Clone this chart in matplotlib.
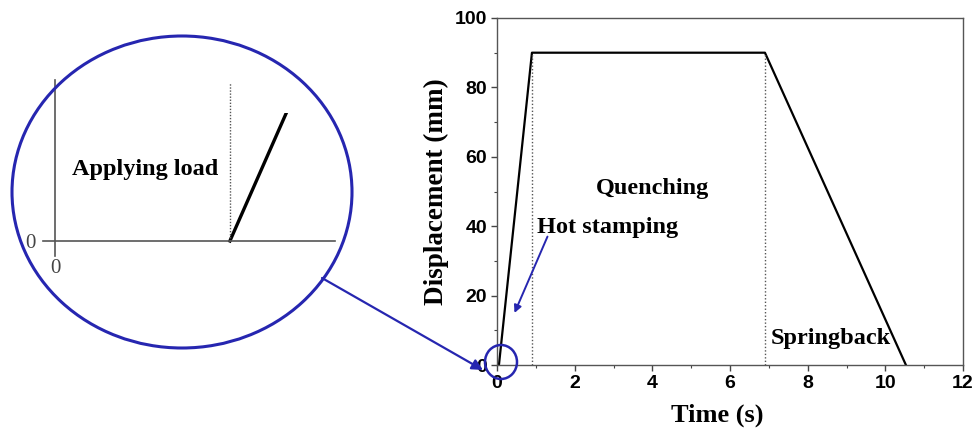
import matplotlib
matplotlib.use("Agg")
import matplotlib.pyplot as plt
from matplotlib.patches import Ellipse, FancyArrowPatch, Rectangle
from matplotlib.ticker import MultipleLocator

# 데이터: 시간(s) - 변위(mm)
time_s = [0.05, 0.9, 6.9, 10.53]
disp_mm = [0, 90, 90, 0]
phase_t = [0.9, 6.9]          # 점선 구간 경계
load_start = [0.05]           # 하중 시작 (확대도)
x_ticks = [0, 2, 4, 6, 8, 10, 12]
y_ticks = [0, 20, 40, 60, 80, 100]

BLUE = "#2626b0"
SERIF = "Liberation Serif"
SANS = "Liberation Sans"

fig = plt.figure(figsize=(9.74, 4.30), dpi=100)
W, H = 974, 430


def fig_box(l, t, r, b):
    return [l / W, 1 - b / H, (r - l) / W, (b - t) / H]


# ---- 메인 그래프 ----
ax = fig.add_axes(fig_box(497, 18, 963, 365))
ax.plot(time_s, disp_mm, color="black", lw=1.6)
ax.vlines(phase_t, 0, 90, colors="#555555", linestyles=(0, (1, 1.5)), lw=1.0)
ax.set_xlim(0, 12)
ax.set_ylim(0, 100)
ax.set_xticks(x_ticks)
ax.set_yticks(y_ticks)
ax.xaxis.set_minor_locator(MultipleLocator(1))
ax.yaxis.set_minor_locator(MultipleLocator(10))
ax.tick_params(which="both", direction="out", colors="#444444")
ax.tick_params(which="major", length=4, width=1, labelsize=14, labelcolor="black", pad=3)
ax.tick_params(which="minor", length=2.5, width=0.8)
for lab in ax.get_xticklabels() + ax.get_yticklabels():
    lab.set_fontfamily(SANS)
    lab.set_fontweight("bold")
for sp in ax.spines.values():
    sp.set_color("#555555")
    sp.set_linewidth(1.0)
ax.set_xlabel("Time (s)", fontsize=19, fontweight="bold", family=SERIF)
ax.xaxis.set_label_coords(0.472, -0.11)
ax.set_ylabel("Displacement (mm)", fontsize=19.5, fontweight="bold", family=SERIF, labelpad=4)

ax.text(4.0, 51, "Quenching", fontsize=17.5, fontweight="bold", family=SERIF,
        ha="center", va="center")
ax.text(1.03, 39.5, "Hot stamping", fontsize=17.5, fontweight="bold", family=SERIF,
        ha="left", va="center")
ax.text(7.05, 7.5, "Springback", fontsize=17.5, fontweight="bold", family=SERIF,
        ha="left", va="center")

ax.annotate("", xy=(0.45, 15), xytext=(1.3, 37),
            arrowprops=dict(arrowstyle="-|>", color=BLUE, lw=1.4,
                            mutation_scale=11, shrinkA=0, shrinkB=0))

# 원점 부근 작은 원
fig.patches.append(Ellipse((501 / W, 1 - 362 / H), 32 / W, 34 / H,
                           transform=fig.transFigure, fill=False,
                           edgecolor=BLUE, lw=1.8))

# ---- 확대도 (원) ----
ins = fig.add_axes(fig_box(20, 60, 345, 300))
ins.patch.set_alpha(0)
ins.set_xlim(-0.01, 0.0829)
ins.set_ylim(-0.787, 2.413)
line, = ins.plot(time_s, disp_mm, color="black", lw=2.4)
line.set_clip_path(Rectangle((-0.01, -0.787), 0.1, 1.7 + 0.787,
                             transform=ins.transData))
ins.vlines(load_start, 0, 2.1, colors="#555555", linestyles=(0, (1, 1.2)), lw=1.0)
for s in ["top", "right"]:
    ins.spines[s].set_visible(False)
ins.spines["left"].set_position(("data", 0))
ins.spines["bottom"].set_position(("data", 0))
ins.spines["left"].set_bounds(-0.2, 2.15)
ins.spines["bottom"].set_bounds(-0.0035, 0.0799)
for s in ["left", "bottom"]:
    ins.spines[s].set_color("#555555")
    ins.spines[s].set_linewidth(1.2)
ins.set_xticks([0])
ins.set_yticks([0])
ins.tick_params(length=0, labelsize=15, labelcolor="#444444", pad=2)
for lab in ins.get_xticklabels() + ins.get_yticklabels():
    lab.set_fontfamily(SERIF)
ins.xaxis.set_tick_params(pad=13)
ins.yaxis.set_tick_params(pad=14)
ins.text(0.005, 0.95, "Applying load", fontsize=17.5, fontweight="bold", family=SERIF,
         ha="left", va="center")

big = Ellipse((182 / W, 1 - 192 / H), 340 / W, 312 / H, transform=fig.transFigure,
              fill=False, edgecolor=BLUE, lw=2.2)
fig.patches.append(big)

# 확대 원 → 작은 원 화살표
arr = FancyArrowPatch((322 / W, 1 - 278 / H), (483 / W, 1 - 370 / H),
                      transform=fig.transFigure, arrowstyle="-|>", color=BLUE,
                      lw=1.6, mutation_scale=16, shrinkA=0, shrinkB=0)
fig.patches.append(arr)

fig.savefig("out.png", dpi=100)
